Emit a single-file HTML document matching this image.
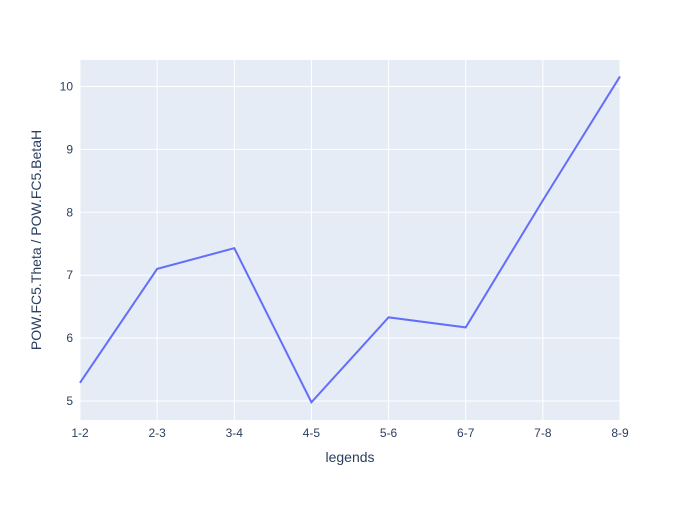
<!DOCTYPE html>
<html><head><meta charset="utf-8"><style>
body{margin:0;background:#fff;}
svg text{font-family:"Liberation Sans",sans-serif;fill:#2a3f5f;}
</style></head><body>
<svg width="700" height="500">
<rect x="80" y="60" width="540" height="360" fill="#e5ecf6"/>
<g id="grid"></g>
<path id="line" fill="none" stroke="#636efa" stroke-width="2"/>
<g id="ticks"></g>
<text x="350" y="462" text-anchor="middle" font-size="14">legends</text>
<text transform="translate(41,240) rotate(-90)" text-anchor="middle" font-size="14">POW.FC5.Theta / POW.FC5.BetaH</text>
</svg>
<script>
const categories=["1-2","2-3","3-4","4-5","5-6","6-7","7-8","8-9"];
const values=[5.29,7.10,7.43,4.98,6.33,6.17,8.19,10.16];
const yTicks=[5,6,7,8,9,10];
const ns="http://www.w3.org/2000/svg";
const x=i=>80+i*540/(categories.length-1);
const y=v=>401-(v-5)*62.9;
const grid=document.getElementById('grid'),ticks=document.getElementById('ticks');
function mk(tag,attrs,parent){const e=document.createElementNS(ns,tag);for(const k in attrs)e.setAttribute(k,attrs[k]);parent.appendChild(e);return e;}
categories.forEach((c,i)=>{
 const g=mk('line',{x1:x(i),x2:x(i),y1:60,y2:420,stroke:'#fff','stroke-width':1},grid);
 
 
 const t=mk('text',{x:x(i),y:437,'text-anchor':'middle','font-size':12},ticks);
 t.textContent=c;
 
 
});
yTicks.forEach(v=>{
 const g=mk('line',{x1:80,x2:620,y1:y(v),y2:y(v),stroke:'#fff','stroke-width':1},grid);
 
 
 const t=mk('text',{x:73,y:y(v)+4,'text-anchor':'end','font-size':12},ticks);
 t.textContent=v;
 
 
});
document.getElementById('line').setAttribute('d',values.map((v,i)=>(i?'L':'M')+x(i)+','+y(v)).join(''));
</script>
</body></html>
